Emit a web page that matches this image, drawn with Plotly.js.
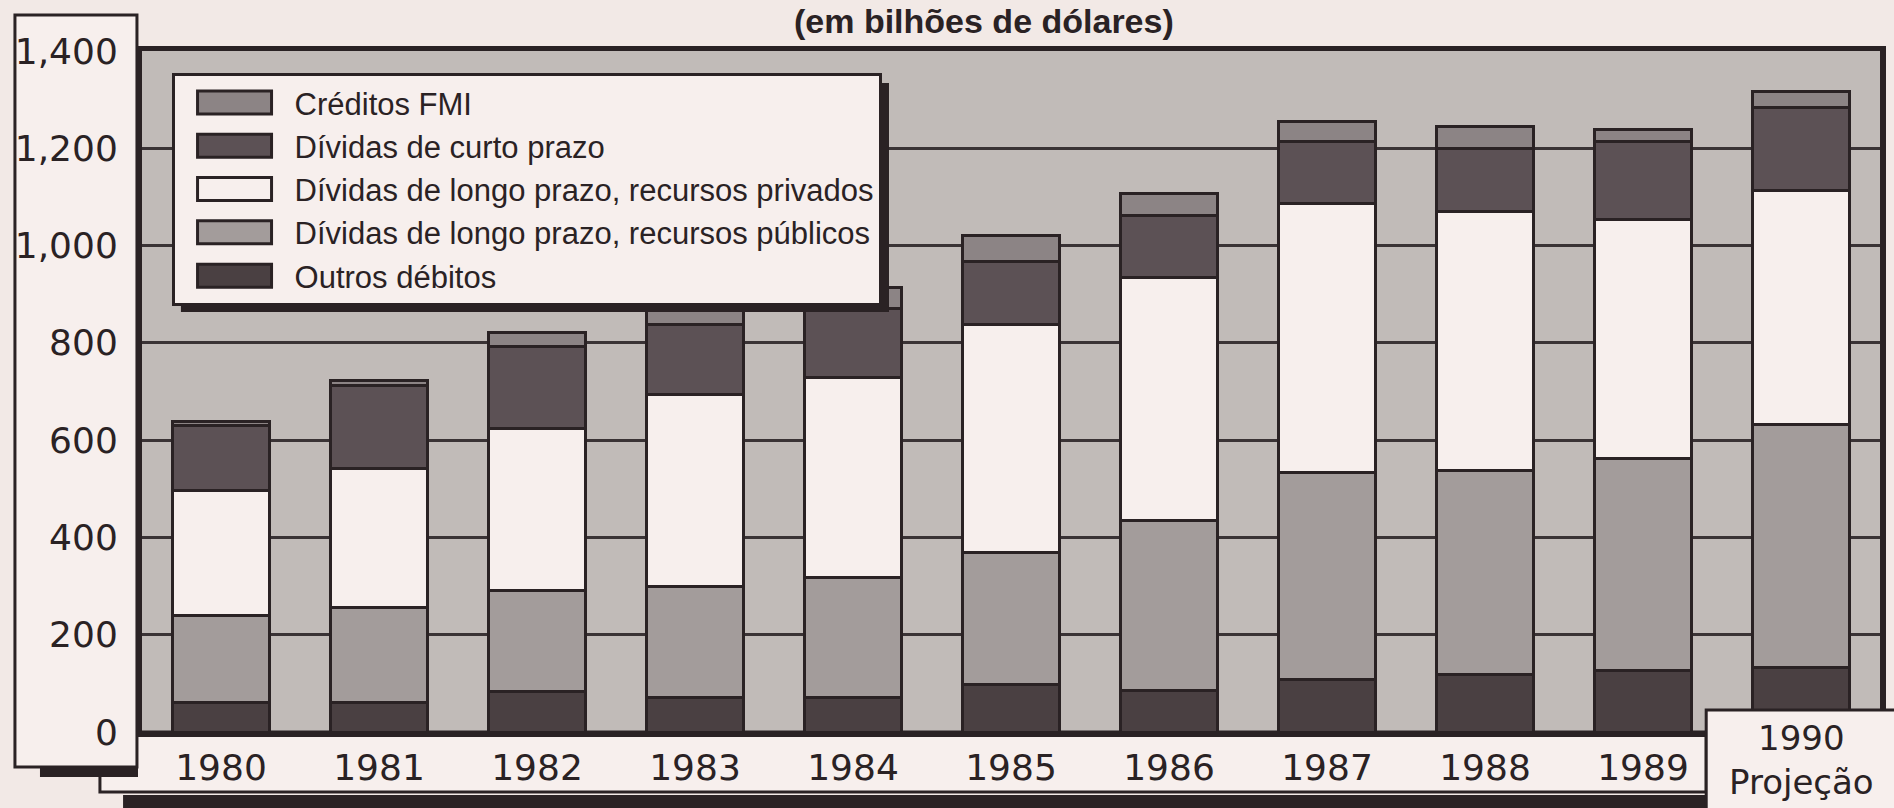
<!DOCTYPE html>
<html>
<head>
<meta charset="utf-8">
<script src="https://cdn.plot.ly/plotly-3.0.1.min.js"></script>
<style>
  html, body { margin: 0; padding: 0; background: #f2e9e6; }
  #chart { width: 1894px; height: 808px; }
</style>
</head>
<body>
<div id="chart"></div>
<script>
// anos e rótulos do eixo x
const years = ['1980', '1981', '1982', '1983', '1984', '1985', '1986', '1987', '1988', '1989', '1990'];
const yearLabels = ['1980', '1981', '1982', '1983', '1984', '1985', '1986', '1987', '1988', '1989', ''];
const projLabel = '1990<br>Projeção';

// valores (bilhões de dólares)
const outrosDebitos = [61, 61, 83, 71, 71, 97, 86, 107, 118, 126, 132];
const longoPublicos = [179, 195, 208, 229, 247, 271, 349, 427, 419, 437, 500];
const longoPrivados = [256, 286, 332, 394, 410, 469, 499, 552, 534, 490, 482];
const curtoPrazo = [134, 170, 169, 143, 143, 131, 127, 127, 129, 160, 170];
const creditosFMI = [8, 10, 29, 44, 42, 53, 47, 42, 44, 26, 32];

const yTickVals = [0, 200, 400, 600, 800, 1000, 1200, 1400];
const yTickText = ['0', '200', '400', '600', '800', '1,000', '1,200', '1,400'];

const ink = '#2a2224';
const paperWhite = '#f7efed';

function barTrace(name, values, color) {
    return {
        type: 'bar',
        name: name,
        x: years,
        y: values,
        marker: { color: color, line: { color: ink, width: 3 } },
        hoverinfo: 'name+y'
    };
}

const data = [
    barTrace('Outros débitos', outrosDebitos, '#4a4042'),
    barTrace('Dívidas de longo prazo, recursos públicos', longoPublicos, '#a39c9b'),
    barTrace('Dívidas de longo prazo, recursos privados', longoPrivados, '#f7efed'),
    barTrace('Dívidas de curto prazo', curtoPrazo, '#5c5155'),
    barTrace('Créditos FMI', creditosFMI, '#8c8485')
];

const layout = {
    width: 1894,
    height: 808,
    margin: { l: 142, r: 14, t: 51, b: 76 },
    paper_bgcolor: '#f2e9e6',
    plot_bgcolor: '#c1bbb8',
    barmode: 'stack',
    bargap: 0.385,
    showlegend: true,
    font: { family: 'DejaVu Sans', color: ink },
    xaxis: {
        type: 'category',
        range: [-0.5, 10.5],
        tickvals: years,
        ticktext: yearLabels,
        tickfont: { family: 'DejaVu Sans', size: 36, color: ink },
        ticks: '',
        ticklabelstandoff: 0,
        showgrid: false,
        showline: true,
        mirror: true,
        linecolor: ink,
        linewidth: 5
    },
    yaxis: {
        range: [0, 1400],
        tickvals: yTickVals,
        ticktext: yTickText,
        tickfont: { family: 'DejaVu Sans', size: 36, color: ink },
        ticks: '',
        ticklabelstandoff: 11,
        showgrid: true,
        gridcolor: '#3a3335',
        gridwidth: 3,
        zeroline: false,
        showline: true,
        mirror: true,
        linecolor: ink,
        linewidth: 6
    },
    legend: {
        x: 0.017,
        y: 0.968,
        xanchor: 'left',
        yanchor: 'top',
        traceorder: 'reversed',
        bgcolor: paperWhite,
        bordercolor: ink,
        borderwidth: 3,
        font: { family: 'Liberation Sans', size: 31, color: ink },
        itemwidth: 110
    },
    annotations: [
        {
            text: '(em bilhões de dólares)',
            xref: 'paper', yref: 'paper',
            x: 0.4845, y: 1.044,
            xanchor: 'center', yanchor: 'middle',
            showarrow: false,
            font: { family: 'Liberation Sans', size: 34, color: ink, weight: 'bold' }
        },
        {
            text: projLabel,
            xref: 'x', yref: 'paper',
            x: 10, y: -0.041,
            xanchor: 'center', yanchor: 'middle',
            showarrow: false,
            font: { family: 'DejaVu Sans', size: 34, color: ink }
        }
    ],
    shapes: [
        // faixa dos anos (sombra + faixa)
        { type: 'rect', layer: 'below', xref: 'paper', yref: 'paper',
          x0: -0.0109, x1: 0.9, y0: -0.1116, y1: -0.0925,
          fillcolor: ink, line: { width: 0 } },
        { type: 'rect', layer: 'below', xref: 'paper', yref: 'paper',
          x0: -0.0242, x1: 0.9, y0: -0.0881, y1: 0,
          fillcolor: paperWhite, line: { color: ink, width: 3 } },
        // caixa dos rótulos do eixo y (sombra + caixa)
        { type: 'rect', layer: 'below', xref: 'paper', yref: 'paper',
          x0: -0.0587, x1: -0.0023, y0: -0.0661, y1: 1.03,
          fillcolor: ink, line: { width: 0 } },
        { type: 'rect', layer: 'below', xref: 'paper', yref: 'paper',
          x0: -0.0731, x1: -0.0029, y0: -0.0514, y1: 1.0529,
          fillcolor: paperWhite, line: { color: ink, width: 3 } },
        // sombra da legenda
        { type: 'rect', layer: 'above', xref: 'paper', yref: 'paper',
          x0: 0.0224, x1: 0.4298, y0: 0.6167, y1: 0.953,
          fillcolor: ink, line: { width: 0 } },
        // caixa "1990 Projeção"
        { type: 'rect', layer: 'above', xref: 'paper', yref: 'paper',
          x0: 0.9, x1: 1.02, y0: -0.12, y1: 0.0323,
          fillcolor: paperWhite, line: { color: ink, width: 3 } }
    ]
};

Plotly.newPlot('chart', data, layout, { staticPlot: true }).then(function (gd) {
    // símbolos da legenda mais largos, como no original
    gd.querySelectorAll('.legend .legendpoints path').forEach(function (p) {
        p.setAttribute('d', 'M-37,-11.5H37V11.5H-37Z');
    });
});
</script>
</body>
</html>
